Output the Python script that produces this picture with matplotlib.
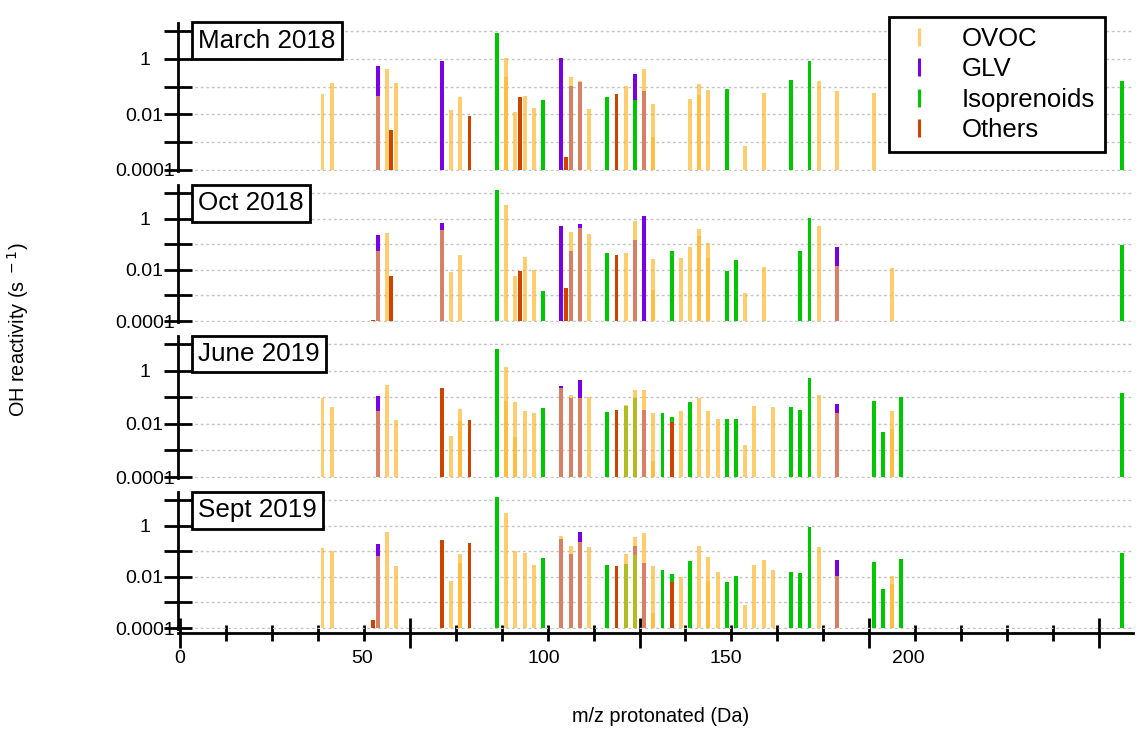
import matplotlib.pyplot as plt
from matplotlib.lines import Line2D
from matplotlib.ticker import NullLocator, MultipleLocator

plt.rcParams['font.family'] = ['Liberation Sans', 'DejaVu Sans']

# (m/z, OH reactivity in s-1); repeated m/z = overlapping compounds
mar18_ovoc = [(31, 0.054), (33, 0.133), (43, 0.047), (45, 0.43), (47, 0.14), (59, 0.015), (61, 0.041),
              (71, 1.1), (71, 0.23), (73, 0.0127), (75, 0.047), (77, 0.017), (85, 0.22), (87, 0.16),
              (89, 0.0155), (97, 0.107), (101, 0.43), (103, 0.024), (103, 0.0016), (111, 0.036),
              (113, 0.123), (113, 0.05), (115, 0.077), (123, 0.0007), (127, 0.061), (139, 0.16),
              (143, 0.071), (151, 0.061)]
mar18_glv = [(43, 0.53), (57, 0.87), (83, 1.1), (85, 0.107), (87, 0.15), (99, 0.28), (101, 0.067)]
mar18_iso = [(69, 8.4), (79, 0.034), (93, 0.041), (99, 0.034), (119, 0.081), (133, 0.166),
             (137, 0.87), (205, 0.153)]
mar18_oth = [(46, 0.0028), (63, 0.0085), (74, 0.044), (84, 0.0003), (95, 0.054), (95, 0.0004)]

oct18_ovoc = [(43, 0.056), (45, 0.276), (57, 0.35), (59, 0.008), (61, 0.039), (71, 3.5), (73, 0.0056),
              (75, 0.031), (77, 0.0095), (85, 0.29), (87, 0.43), (89, 0.25), (97, 0.046), (99, 0.83),
              (103, 0.027), (103, 0.0016), (109, 0.029), (111, 0.076), (113, 0.4), (113, 0.2),
              (115, 0.112), (115, 0.03), (123, 0.0013), (127, 0.013), (139, 0.5), (143, 0.0137),
              (155, 0.012)]
oct18_glv = [(43, 0.23), (57, 0.68), (83, 0.5), (85, 0.056), (87, 0.64), (99, 0.14), (101, 1.23),
             (143, 0.076)]
oct18_iso = [(69, 13.5), (79, 0.0015), (93, 0.046), (107, 0.053), (119, 0.0087), (121, 0.024),
             (135, 0.053), (137, 1.06), (205, 0.096)]
oct18_oth = [(42, 0.00011), (46, 0.0056), (74, 0.0087), (84, 0.002), (95, 0.037)]

jun19_ovoc = [(31, 0.091), (33, 0.042), (43, 0.029), (45, 0.29), (47, 0.014), (59, 0.0035), (61, 0.036),
              (61, 0.013), (71, 1.41), (71, 0.07), (73, 0.064), (73, 0.0031), (75, 0.031), (77, 0.026),
              (83, 0.216), (85, 0.122), (87, 0.091), (89, 0.1), (97, 0.05), (99, 0.19), (101, 0.19),
              (103, 0.025), (103, 0.0004), (109, 0.029), (113, 0.091), (115, 0.031), (117, 0.015),
              (123, 0.0016), (125, 0.048), (129, 0.042), (139, 0.122), (143, 0.025), (155, 0.029),
              (155, 0.0064)]
jun19_glv = [(43, 0.115), (83, 0.26), (85, 0.09), (87, 0.45), (101, 0.034), (143, 0.056)]
jun19_iso = [(69, 6.5), (79, 0.04), (93, 0.027), (97, 0.048), (99, 0.091), (105, 0.026), (107, 0.0175),
             (111, 0.064), (119, 0.015), (121, 0.015), (133, 0.044), (135, 0.034), (137, 0.51),
             (151, 0.074), (153, 0.0051), (157, 0.105), (205, 0.14)]
jun19_oth = [(57, 0.216), (63, 0.014), (95, 0.034), (107, 0.0114)]

sep19_ovoc = [(31, 0.134), (33, 0.099), (43, 0.067), (45, 0.55), (47, 0.027), (59, 0.007), (61, 0.078),
              (61, 0.035), (71, 3.1), (73, 0.099), (75, 0.086), (77, 0.029), (83, 0.41), (85, 0.155),
              (87, 0.23), (89, 0.147), (97, 0.078), (99, 0.35), (101, 0.5), (103, 0.027), (103, 0.0004),
              (109, 0.0095), (113, 0.155), (115, 0.058), (115, 0.0067), (117, 0.015), (123, 0.0008),
              (125, 0.029), (127, 0.044), (129, 0.019), (139, 0.147), (143, 0.0105), (155, 0.011),
              (155, 0.0054)]
sep19_glv = [(43, 0.19), (83, 0.3), (85, 0.08), (87, 0.55), (99, 0.155), (101, 0.035), (143, 0.047)]
sep19_iso = [(69, 12.7), (79, 0.055), (93, 0.029), (97, 0.033), (99, 0.069), (105, 0.019), (107, 0.013),
             (111, 0.043), (119, 0.006), (121, 0.011), (133, 0.016), (135, 0.014), (137, 0.86),
             (151, 0.038), (153, 0.0034), (157, 0.051), (205, 0.086)]
sep19_oth = [(42, 0.0002), (57, 0.28), (63, 0.21), (95, 0.027), (107, 0.006)]

campaigns = ['March 2018', 'Oct 2018', 'June 2019', 'Sept 2019']
ovoc = [mar18_ovoc, oct18_ovoc, jun19_ovoc, sep19_ovoc]
glv = [mar18_glv, oct18_glv, jun19_glv, sep19_glv]
iso = [mar18_iso, oct18_iso, jun19_iso, sep19_iso]
oth = [mar18_oth, oct18_oth, jun19_oth, sep19_oth]

x_ticks = [0, 50, 100, 150, 200]
x_ticklabels = ['0', '50', '100', '150', '200']

c_ovoc = '#FFB830'
c_glv = '#7A00E6'
c_iso = '#00C800'
c_oth = '#CC4400'

base = 1e-4
W, H = 1138, 729
# panel extents in pixels (top, bottom)
panels = [(22.7, 170.8), (185.3, 321.8), (336.0, 477.8), (492.3, 628.8)]

fig = plt.figure(figsize=(W / 100, H / 100), dpi=100)


def draw(ax, pairs, color, alpha=1.0):
    if not pairs:
        return
    mz = [p[0] for p in pairs]
    val = [p[1] - base for p in pairs]
    ax.bar(mz, val, bottom=base, width=0.85, color=color, alpha=alpha, linewidth=0, zorder=2)


for i, name in enumerate(campaigns):
    top, bot = panels[i]
    ax = fig.add_axes([178 / W, 1 - bot / H, 955 / W, (bot - top) / H])
    ax.set_yscale('log')
    ax.set_ylim(10 ** -4.03, 10 ** 1.3)
    ax.set_xlim(-0.44, 207.4)

    draw(ax, glv[i], c_glv)
    draw(ax, iso[i], c_iso)
    draw(ax, oth[i], c_oth)
    draw(ax, ovoc[i], c_ovoc, alpha=0.7)

    ax.set_yticks([1e-4, 1e-3, 1e-2, 1e-1, 1, 10])
    ax.set_yticklabels(['0.0001', '', '0.01', '', '1', ''])
    ax.yaxis.set_minor_locator(NullLocator())
    ax.yaxis.grid(True, linestyle=(0, (2, 2)), color='#c4c4c4', linewidth=1)
    ax.set_axisbelow(True)
    ax.tick_params(axis='y', direction='inout', length=20, width=2, labelsize=14, pad=14)
    for lbl in ax.get_yticklabels():
        lbl.set_horizontalalignment('center')

    for s in ['top', 'right']:
        ax.spines[s].set_visible(False)
    ax.spines['left'].set_linewidth(2)

    if i < 3:
        ax.spines['bottom'].set_visible(False)
        ax.tick_params(axis='x', bottom=False, labelbottom=False)
    else:
        ax.spines['bottom'].set_position(('outward', 3))
        ax.spines['bottom'].set_linewidth(2)
        ax.xaxis.set_major_locator(MultipleLocator(50))
        ax.xaxis.set_minor_locator(MultipleLocator(10))
        ax.tick_params(axis='x', which='major', direction='inout', length=22, width=2, labelbottom=False)
        ax.tick_params(axis='x', which='minor', direction='inout', length=11, width=2)
        # labels in the original sit at 0.792x the tick spacing
        for t, lbl in zip(x_ticks, x_ticklabels):
            ax.annotate(lbl, xy=(t * 0.792, 0), xycoords=('data', 'axes fraction'),
                        xytext=(0, -21), textcoords='offset pixels',
                        ha='center', va='top', fontsize=14)

    ax.annotate(name, xy=(0, 1), xycoords='axes fraction', xytext=(20, -6),
                textcoords='offset pixels', ha='left', va='top', fontsize=18.7, zorder=5,
                bbox=dict(boxstyle='square,pad=0.25', fc='white', ec='black', lw=2))

handles = [Line2D([], [], marker='|', linestyle='none', markersize=13, markeredgewidth=2.2,
                  color=c_ovoc, alpha=0.7),
           Line2D([], [], marker='|', linestyle='none', markersize=13, markeredgewidth=2.2, color=c_glv),
           Line2D([], [], marker='|', linestyle='none', markersize=13, markeredgewidth=2.2, color=c_iso),
           Line2D([], [], marker='|', linestyle='none', markersize=13, markeredgewidth=2.2, color=c_oth)]
leg = fig.legend(handles, ['OVOC', 'GLV', 'Isoprenoids', 'Others'], loc='upper left',
                 bbox_to_anchor=(889 / W, 1 - 17 / H), fontsize=18.5, frameon=True, fancybox=False,
                 edgecolor='black', handlelength=1.6, handletextpad=0.85, labelspacing=0.25,
                 borderpad=0.38, borderaxespad=0)
leg.get_frame().set_linewidth(2)
leg.get_frame().set_alpha(1)

fig.text(18 / W, 1 - 330 / H, 'OH reactivity (s$^{\\ -1}$)', rotation=90, ha='center', va='center',
         fontsize=14.3)
fig.text(661 / W, 1 - 716 / H, 'm/z protonated (Da)', ha='center', va='center', fontsize=14.3)

fig.savefig('out.png', dpi=100)
